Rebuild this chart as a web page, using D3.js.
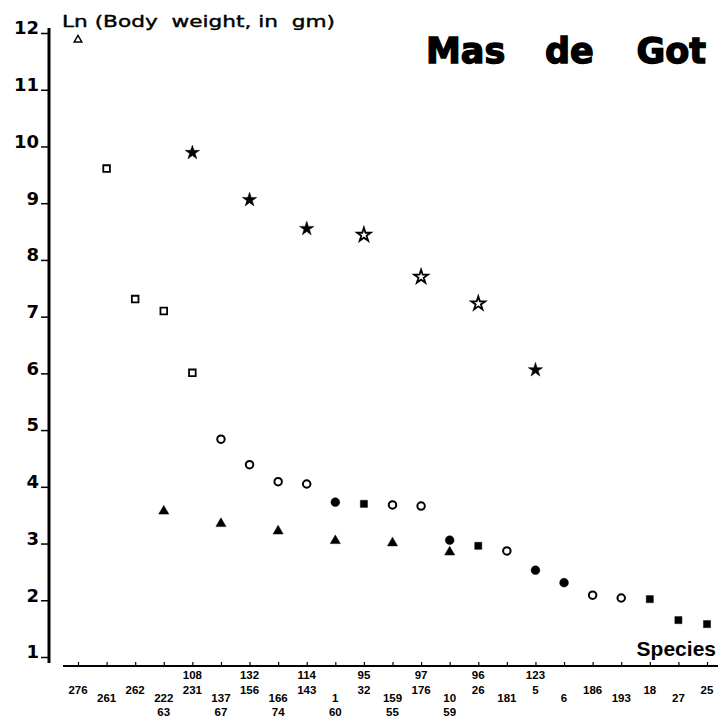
<!DOCTYPE html>
<html>
<head>
<meta charset="utf-8">
<script src="https://cdn.jsdelivr.net/npm/d3@7"></script>
<style>
  html, body { margin: 0; padding: 0; background: #fff; }
  svg { display: block; }
</style>
</head>
<body>
<svg id="chart" width="720" height="721"></svg>
<script>
// species codes at each x position, "a/b" = two species stacked
const categories = ["276","261","262","222/63","108/231","137/67","132/156","166/74","114/143","1/60",
  "95/32","159/55","97/176","10/59","96/26","181","123/5","6","186","193","18","27","25"]
const yTicks = [1,2,3,4,5,6,7,8,9,10,11,12]

// [position, ln body weight]
const openTriangle = [["276", 11.88]]
const openSquare = [["261", 9.61], ["262", 7.31], ["222/63", 7.10], ["108/231", 6.01]]
const filledStar = [["108/231", 9.89], ["132/156", 9.06], ["114/143", 8.55], ["123/5", 6.06]]
const openStar = [["95/32", 8.44], ["97/176", 7.70], ["96/26", 7.23]]
const openCircle = [["137/67", 4.84], ["132/156", 4.39], ["166/74", 4.09], ["114/143", 4.05],
  ["159/55", 3.68], ["97/176", 3.66], ["181", 2.87], ["186", 2.09], ["193", 2.04]]
const filledCircle = [["1/60", 3.73], ["10/59", 3.06], ["123/5", 2.53], ["6", 2.31]]
const filledSquare = [["95/32", 3.70], ["96/26", 2.96], ["18", 2.02], ["27", 1.65], ["25", 1.58]]
const filledTriangle = [["222/63", 3.57], ["137/67", 3.35], ["166/74", 3.22], ["1/60", 3.05],
  ["159/55", 3.01], ["10/59", 2.85]]

const svg = d3.select('#chart')

const x = d3.scalePoint().domain(categories).range([78, 707])
const y = d3.scaleLinear().domain([1, 12]).range([657, 33])

/**
 * y axis: thick line, short ticks, bold labels sitting on the tick
 */
svg.append('line')
    .attr('x1', 49).attr('x2', 49)
    .attr('y1', 28).attr('y2', 663)
    .attr('stroke', 'black')
    .attr('stroke-width', 3)

const yAx = svg.append('g')
    .attr('transform', 'translate(49,0)')
    .call(d3.axisLeft(y).tickValues(yTicks).tickSize(8).tickPadding(2).tickFormat(d3.format('d')))
yAx.select('.domain').remove()
yAx.selectAll('line').attr('stroke-width', 1.5)
yAx.selectAll('text')
    .attr('dy', '0.05em')
    .style('font-family', '"DejaVu Sans", sans-serif')
    .style('font-weight', 'bold')
    .style('font-size', '18px')
    .attr('fill', 'black')

/**
 * x axis: line with small upward ticks, labels drawn by hand in two staggered groups
 */
svg.append('line')
    .attr('x1', 63).attr('x2', 718)
    .attr('y1', 666).attr('y2', 666)
    .attr('stroke', 'black')
    .attr('stroke-width', 2)

const xAx = svg.append('g')
    .attr('transform', 'translate(0,666)')
    .call(d3.axisBottom(x).tickSize(-4).tickFormat(''))
xAx.select('.domain').remove()
xAx.selectAll('line').attr('stroke-width', 1.2)

const labelG = svg.append('g')
    .style('font-family', '"Liberation Sans", Arial, sans-serif')
    .style('font-weight', 'bold')
    .style('font-size', '11.5px')
    .attr('text-anchor', 'middle')

categories.forEach((c, i) => {
    let lines = c.split('/')
    let base
    if (i % 2 == 0) base = lines.length == 2 ? [679, 694] : [694]
    else base = [702, 716]
    lines.forEach((t, j) => {
        labelG.append('text')
            .attr('x', x(c))
            .attr('y', base[j])
            .text(t)
    })
})

/**
 * markers
 */
const printSymbol =
(data, symbol, size, filled, sw=1.6) => {
    svg.append('g')
        .selectAll('path')
        .data(data)
        .enter()
        .append('path')
            .attr('transform', d => `translate(${x(d[0])},${y(d[1])})`)
            .attr('d', d3.symbol().type(symbol).size(size))
            .style('fill', filled ? 'black' : 'white')
            .style('stroke', 'black')
            .style('stroke-width', filled ? 0.5 : sw)
}

printSymbol(openTriangle, d3.symbolTriangle, 26, false, 1.4)
printSymbol(openSquare, d3.symbolSquare, 44, false, 1.8)
printSymbol(filledStar, d3.symbolStar, 64, true)
printSymbol(openStar, d3.symbolStar, 58, false, 1.8)
printSymbol(openCircle, d3.symbolCircle, 44, false, 2)
printSymbol(filledCircle, d3.symbolCircle, 60, true)
printSymbol(filledSquare, d3.symbolSquare, 50, true)
printSymbol(filledTriangle, d3.symbolTriangle, 44, true)

/**
 * texts
 */
svg.append('text')
    .attr('x', 62).attr('y', 27)
    .attr('textLength', 273)
    .attr('lengthAdjust', 'spacingAndGlyphs')
    .attr('xml:space', 'preserve')
    .style('font-family', '"DejaVu Sans", sans-serif')
    .style('font-size', '16px')
    .style('stroke', 'black')
    .style('stroke-width', 0.4)
    .text('Ln (Body  weight, in  gm)')

svg.append('text')
    .attr('x', 716).attr('y', 656)
    .attr('text-anchor', 'end')
    .style('font-family', '"Liberation Sans", Arial, sans-serif')
    .style('font-weight', 'bold')
    .style('font-size', '21px')
    .text('Species')

const title = svg.append('text')
    .attr('y', 63)
    .style('font-family', '"DejaVu Sans", sans-serif')
    .style('font-weight', 'bold')
    .style('font-size', '35px')
    .style('stroke', 'black')
    .style('stroke-width', 1.4)
title.append('tspan').attr('x', 426).text('Mas')
title.append('tspan').attr('x', 545).text('de')
title.append('tspan').attr('x', 706).attr('text-anchor', 'end').text('Got')
</script>
</body>
</html>
